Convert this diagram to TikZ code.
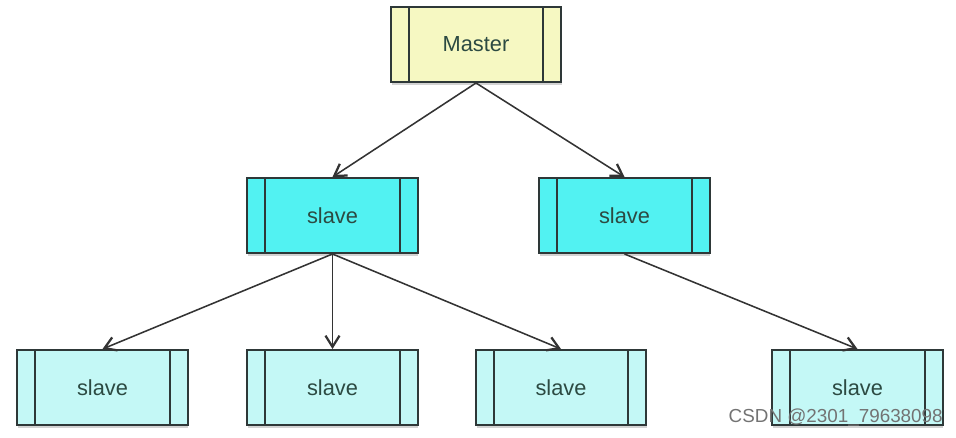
\documentclass[tikz,border=0pt]{standalone}
\usepackage{fontspec}
\setmainfont{Liberation Sans}
\usepackage{xcolor}
\usepackage{tikz}
\usetikzlibrary{arrows.meta,shadows}

\definecolor{mastfill}{HTML}{F6F8C2}
\definecolor{midfill}{HTML}{52F2F2}
\definecolor{leaffill}{HTML}{C4F8F6}
\definecolor{edgegray}{HTML}{2E3838}
\definecolor{textgreen}{HTML}{2C4A42}

\tikzset{
  redisbox/.style={draw=edgegray, line width=1.4pt, minimum width=4.25cm, minimum height=1.875cm,
    text=textgreen, font=\fontsize{15.5}{18}\selectfont,
    drop shadow={opacity=0.35, shadow xshift=0.6pt, shadow yshift=-2pt},
    path picture={
      \draw[edgegray, line width=1.4pt]
        ([xshift=0.44cm]path picture bounding box.north west) -- ([xshift=0.44cm]path picture bounding box.south west)
        ([xshift=-0.44cm]path picture bounding box.north east) -- ([xshift=-0.44cm]path picture bounding box.south east);
    }},
  mastbox/.style={redisbox, fill=mastfill},
  midbox/.style={redisbox, fill=midfill},
  leafbox/.style={redisbox, fill=leaffill},
  link/.style={draw=black!80, line width=1.1pt, -{Straight Barb[length=8pt, width=10pt, line width=1.6pt]}}
}

\begin{document}
\begin{tikzpicture}[x=0.025cm, y=-0.025cm]
\useasboundingbox (0,0) rectangle (956,438);

\node[mastbox] (master) at (476,44.5) {Master};

\node[midbox] (slaveL) at (332.5,215.5) {slave};
\node[midbox] (slaveR) at (624.5,215.5) {slave};

\node[leafbox] (leafA) at (102.5,387.5) {slave};
\node[leafbox] (leafB) at (332.5,387.5) {slave};
\node[leafbox] (leafC) at (561,387.5) {slave};
\node[leafbox] (leafD) at (857.5,387.5) {slave};

\draw[link] (master.south) -- (slaveL.north);
\draw[link] (master.south) -- (slaveR.north);
\draw[link] (slaveL.south) -- (leafA.north);
\draw[link] (slaveL.south) -- (leafB.north);
\draw[link] (slaveL.south) -- (leafC.north);
\draw[link] (slaveR.south) -- (leafD.north);

% watermark
\node[anchor=east, text=black!55, font=\fontsize{13.4}{16}\selectfont, inner sep=0pt] (mark) at (943,418) {CSDN @2301\_79638098};
\end{tikzpicture}
\end{document}
